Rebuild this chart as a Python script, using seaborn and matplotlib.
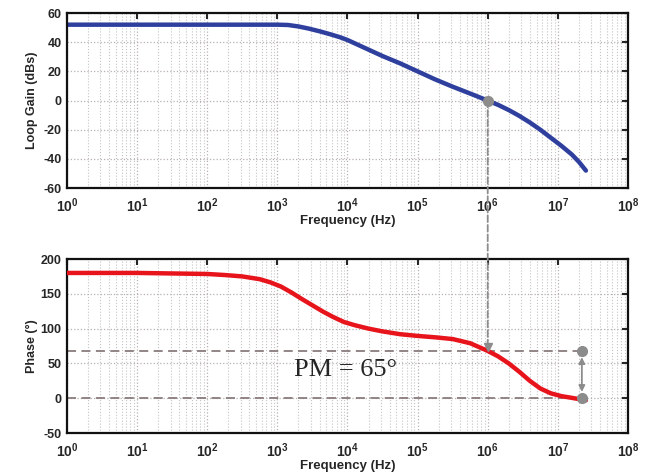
import numpy as np
import pandas as pd
import matplotlib
matplotlib.use('Agg')
import matplotlib.pyplot as plt
from matplotlib.patches import ConnectionPatch
import seaborn as sns

# values (log10 of frequency)
gain_logf = [0, 1, 2, 2.75, 3, 3.15, 3.3, 3.45, 3.6, 3.75, 3.9, 4, 4.25, 4.5, 4.75, 5, 5.25, 5.5, 5.75,
             6, 6.15, 6.3, 6.45, 6.6, 6.75, 6.9, 7.05, 7.2, 7.3, 7.4]
gain_db = [52, 52, 52, 52, 52, 51.8, 50.8, 49.3, 47.5, 45.5, 43.3, 41.5, 36, 30.5, 25.5, 20, 14.5, 9.5, 4.8,
           0, -3, -6.5, -10.5, -15, -20, -25.5, -31, -37, -42, -48]

phase_logf = [0, 1, 2, 2.25, 2.5, 2.75, 2.9, 3.05, 3.2, 3.35, 3.5, 3.65, 3.8, 3.95, 4.1, 4.3, 4.5, 4.75,
              5, 5.25, 5.5, 5.75, 6, 6.15, 6.3, 6.45, 6.6, 6.75, 6.9, 7.05, 7.2, 7.4]
phase_deg = [180, 180, 178.5, 177, 175, 171, 166.5, 160.5, 152, 142.5, 133.5, 124.5, 116.5, 109.5, 105, 100, 96, 92,
             89.5, 87.5, 85, 79, 68, 60, 50, 38, 25, 14, 7, 3, 0.5, -3]

f_cross = 1e6
pm_top = 68
pm_bottom = 0
f_pm = 2.2e7

decades = list(range(0, 9))
gain_ticks = [-60, -40, -20, 0, 20, 40, 60]
phase_ticks = [-50, 0, 50, 100, 150, 200]

gain_df = pd.DataFrame({'f': 10.0 ** np.array(gain_logf), 'gain': gain_db})
phase_df = pd.DataFrame({'f': 10.0 ** np.array(phase_logf), 'phase': phase_deg})

sns.set_style('white')
plt.rcParams['font.family'] = ['Liberation Sans', 'DejaVu Sans']
plt.rcParams['mathtext.fontset'] = 'custom'
plt.rcParams['mathtext.rm'] = 'Liberation Sans:bold'
plt.rcParams['mathtext.bf'] = 'Liberation Sans:bold'
plt.rcParams['mathtext.it'] = 'Liberation Sans:bold'

fig = plt.figure(figsize=(6.49, 4.75), dpi=100)
ax1 = fig.add_axes([0.1032, 0.604, 0.8644, 0.3686])
ax2 = fig.add_axes([0.1032, 0.0884, 0.8644, 0.3663])

sns.lineplot(data=gain_df, x='f', y='gain', ax=ax1, color='#2e3f9e', linewidth=3.2)
sns.lineplot(data=phase_df, x='f', y='phase', ax=ax2, color='#e8141c', linewidth=3.2, zorder=3)

tick_labels = [r'$10^{%d}$' % d for d in decades]
for ax, yt in [(ax1, gain_ticks), (ax2, phase_ticks)]:
    ax.set_xscale('log')
    ax.set_xlim(1, 1e8)
    ax.set_ylim(yt[0], yt[-1])
    ax.set_xticks([10.0 ** d for d in decades])
    ax.set_xticklabels(tick_labels, fontsize=10)
    ax.set_yticks(yt)
    ax.set_yticklabels([str(v) for v in yt], fontsize=9, fontweight='bold')
    ax.xaxis.set_minor_locator(matplotlib.ticker.LogLocator(base=10, subs=np.arange(2, 10), numticks=20))
    ax.xaxis.set_minor_formatter(matplotlib.ticker.NullFormatter())
    ax.grid(True, which='major', color='#b8b0b0', linestyle=':', linewidth=0.9)
    ax.grid(True, which='minor', axis='x', color='#c4c4c4', linestyle=':', linewidth=0.8)
    ax.tick_params(which='major', direction='in', top=True, right=True, length=4, width=1.5)
    ax.tick_params(axis='x', which='major', pad=6)
    ax.tick_params(axis='y', which='major', pad=4)
    ax.tick_params(which='minor', direction='in', top=False, right=False, bottom=False, length=0)
    for s in ax.spines.values():
        s.set_linewidth(1.6)
        s.set_color('#111111')
    ax.set_xlabel('Frequency (Hz)', fontsize=9.5, fontweight='bold', labelpad=0)

ax1.set_ylabel('Loop Gain (dBs)', fontsize=9, fontweight='bold', labelpad=4)
ax2.set_ylabel('Phase (°)', fontsize=9, fontweight='bold', labelpad=2)

# crossover marker and dashed link to the phase plot
ax1.plot([f_cross], [0], 'o', color='#8c8c8c', markersize=7, zorder=4)
con = ConnectionPatch(xyA=(f_cross, 0), coordsA=ax1.transData,
                      xyB=(f_cross, pm_top + 6), coordsB=ax2.transData,
                      color='#8c8c8c', linestyle='--', linewidth=1.3, zorder=5)
fig.add_artist(con)
ax2.plot([f_cross], [pm_top + 5], 'v', color='#8c8c8c', markersize=6, zorder=5)

# phase margin lines
dash_c = '#8a7c7c'
ax2.plot([1, f_pm], [pm_top, pm_top], linestyle='--', dashes=(5, 3), color=dash_c, linewidth=1.3, zorder=2)
ax2.plot([1, f_pm], [pm_bottom, pm_bottom], linestyle='--', dashes=(5, 3), color=dash_c, linewidth=1.3, zorder=2)
ax2.plot([f_pm, f_pm], [pm_top, pm_bottom], 'o', color='#8c8c8c', markersize=7, zorder=4)
ax2.annotate('', xy=(f_pm, pm_bottom + 5), xytext=(f_pm, pm_top - 5),
             arrowprops=dict(arrowstyle='<|-|>', color='#8c8c8c', lw=1.3, mutation_scale=9))
ax2.text(10 ** 3.97, 40, 'PM = 65°', fontsize=19, family=['Liberation Serif', 'DejaVu Serif'],
         ha='center', va='center')

fig.savefig('out.png', dpi=100)
